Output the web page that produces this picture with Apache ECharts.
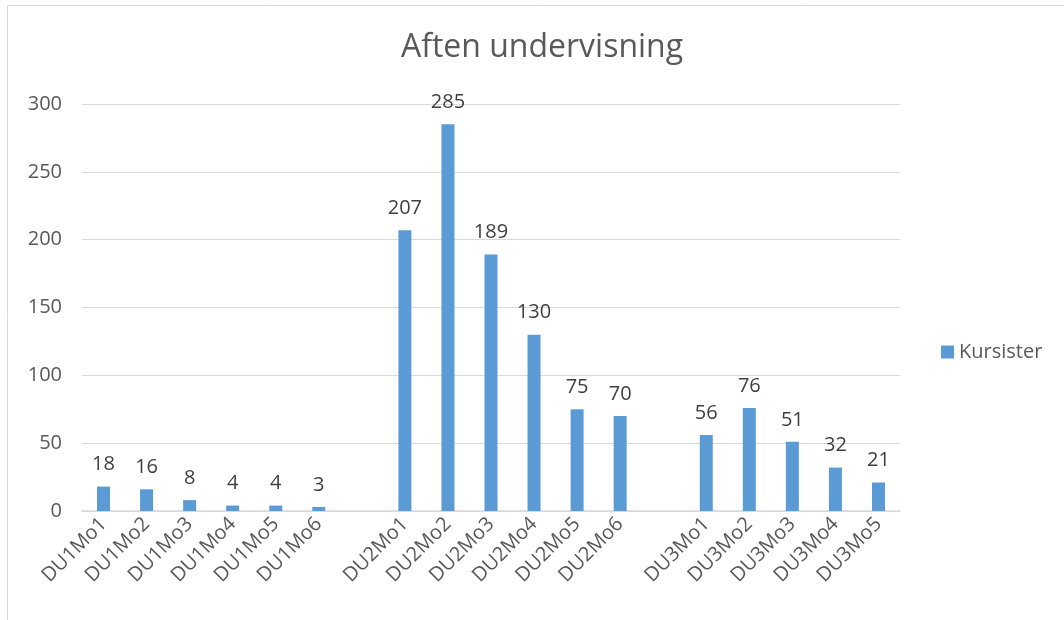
<!DOCTYPE html>
<html>
<head>
<meta charset="utf-8">
<script src="https://cdn.jsdelivr.net/npm/echarts@6/dist/echarts.min.js"></script>
<style>
  html, body { margin: 0; padding: 0; background: #fff; }
  #main { width: 1064px; height: 620px; }
</style>
</head>
<body>
<div id="main"></div>
<script>
  // tomme kategorier giver mellemrum mellem grupperne
  var categories = ['DU1Mo1', 'DU1Mo2', 'DU1Mo3', 'DU1Mo4', 'DU1Mo5', 'DU1Mo6', '',
    'DU2Mo1', 'DU2Mo2', 'DU2Mo3', 'DU2Mo4', 'DU2Mo5', 'DU2Mo6', ' ',
    'DU3Mo1', 'DU3Mo2', 'DU3Mo3', 'DU3Mo4', 'DU3Mo5'];
  var kursister = [18, 16, 8, 4, 4, 3, null, 207, 285, 189, 130, 75, 70, null, 56, 76, 51, 32, 21];

  var font = 'Open Sans, Noto Sans, sans-serif';
  var chart = echarts.init(document.getElementById('main'));
  chart.setOption({
    animation: false,
    textStyle: { fontFamily: font },
    title: {
      text: 'Aften undervisning',
      left: 537,
      top: 27,
      textAlign: 'center',
      textStyle: { fontSize: 32, fontWeight: 'normal', color: '#595959', fontFamily: font }
    },
    graphic: [{
      type: 'rect',
      shape: { x: 7.5, y: 5.5, width: 1100, height: 700 },
      style: { fill: 'none', stroke: '#D9D9D9', lineWidth: 1 }
    }],
    legend: {
      left: 936,
      top: 337,
      itemWidth: 13,
      itemHeight: 13,
      itemGap: 10,
      icon: 'rect',
      textStyle: { fontSize: 20, color: '#595959' },
      data: ['Kursister']
    },
    grid: { left: 82, right: 164, top: 104, bottom: 109 },
    xAxis: {
      type: 'category',
      data: categories,
      axisLine: { lineStyle: { color: '#D9D9D9', width: 1.5 } },
      axisTick: { show: false },
      axisLabel: { rotate: 45, interval: 0, fontSize: 20, color: '#595959', margin: 10 }
    },
    yAxis: {
      type: 'value',
      min: 0,
      max: 300,
      interval: 50,
      axisLine: { show: false },
      axisTick: { show: false },
      axisLabel: { fontSize: 20, color: '#595959', margin: 20 },
      splitLine: { lineStyle: { color: '#D9D9D9', width: 1 } }
    },
    series: [{
      name: 'Kursister',
      type: 'bar',
      data: kursister,
      barWidth: 13,
      itemStyle: { color: '#5B9BD5' },
      label: { show: true, position: 'top', distance: 12, fontSize: 20, color: '#404040' }
    }]
  });
</script>
</body>
</html>
